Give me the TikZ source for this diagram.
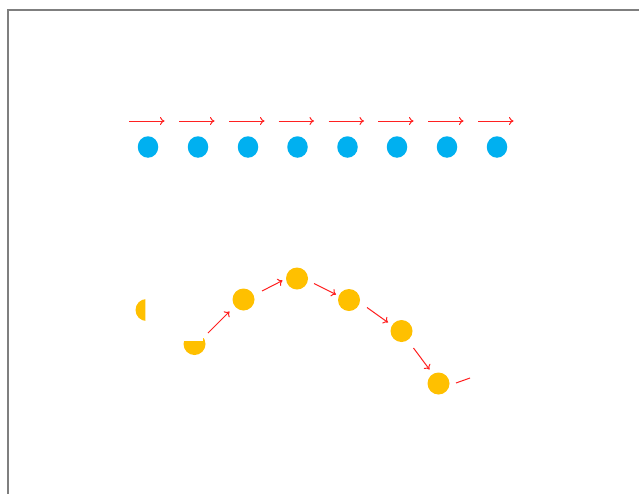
\documentclass[tikz,border=0pt]{standalone}
\usetikzlibrary{arrows.meta,shapes.geometric}
\definecolor{dotblue}{HTML}{00B0F0}
\definecolor{dotyellow}{HTML}{FFC000}
\definecolor{framegray}{HTML}{7F7F7F}
\definecolor{arrowred}{HTML}{FF2020}
\begin{document}
\begin{tikzpicture}[x=1pt,y=-1pt,
  bluedot/.style={ellipse,fill=dotblue,minimum width=20.5pt,minimum height=21.5pt,inner sep=0pt},
  yellowdot/.style={circle,fill=dotyellow,minimum size=22pt,inner sep=0pt},
  redarrow/.style={draw=arrowred,line width=1pt,-{To[length=4.5pt,width=8pt]}},
  redline/.style={draw=arrowred,line width=1pt},
  framestyle/.style={draw=framegray,line width=2pt}]
\useasboundingbox (0,0) rectangle (639,493);
\fill[white] (0,0) rectangle (639,493);
% frame
\coordinate (fb) at (7.6,500);
\coordinate (fc) at (7.6,9.6);
\coordinate (fr) at (650,9.6);
\draw[framestyle] (fb) -- (fc) -- (fr);
% top row
\foreach \i/\x in {1/148,2/198,3/248,4/297.5,5/347.5,6/397,7/447,8/497}{
  \node[bluedot] (b\i) at (\x,147) {};
  \coordinate (as\i) at (\x-19,121);
  \coordinate (ae\i) at (\x+16.5,121);
  \draw[redarrow] (as\i) -- (ae\i);
}
% bottom row
\begin{scope}
  \clip (120,290) rectangle (145.3,330);
  \node[yellowdot] (y1) at (146.5,310) {};
\end{scope}
\begin{scope}
  \clip (170,341) rectangle (203,370) (203,338) rectangle (220,370);
  \node[yellowdot] (y2) at (194.5,344) {};
\end{scope}
\node[yellowdot] (y3) at (243.5,299.5) {};
\node[yellowdot] (y4) at (297,278.5) {};
\node[yellowdot] (y5) at (349,300) {};
\node[yellowdot] (y6) at (401.5,331) {};
\node[yellowdot] (y7) at (438.5,383.5) {};
\coordinate (p1) at (208,333);
\coordinate (q1) at (229.5,311.5);
\coordinate (p2) at (262,291);
\coordinate (q2) at (282.5,280.5);
\coordinate (p3) at (314,283.5);
\coordinate (q3) at (336,294.5);
\coordinate (p4) at (367,307.5);
\coordinate (q4) at (388,322.5);
\coordinate (p5) at (413.5,348);
\coordinate (q5) at (429.5,369.5);
\coordinate (p6) at (456,383);
\coordinate (q6) at (470,378);
\draw[redarrow] (p1) -- (q1);
\draw[redarrow] (p2) -- (q2);
\draw[redarrow] (p3) -- (q3);
\draw[redarrow] (p4) -- (q4);
\draw[redarrow] (p5) -- (q5);
\draw[redline] (p6) -- (q6);
\end{tikzpicture}
\end{document}
